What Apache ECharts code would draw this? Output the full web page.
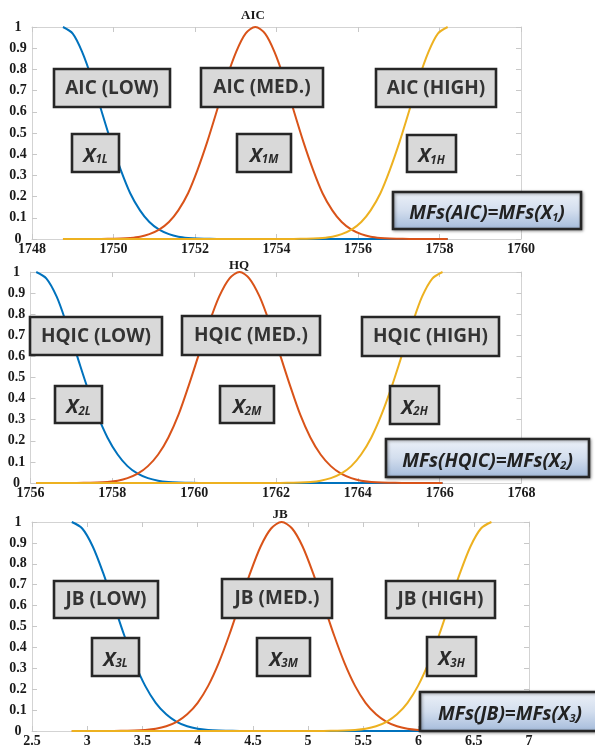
<!DOCTYPE html>
<html>
<head>
<meta charset="utf-8">
<script src="https://cdn.jsdelivr.net/npm/echarts@6/dist/echarts.min.js"></script>
<style>html,body{margin:0;padding:0;background:#fff}#c{width:595px;height:748px}</style>
</head>
<body>
<div id="c"></div>
<script>
// ---------- data ----------
const AIC_X    = [1748.76,1749.00,1749.23,1749.47,1749.70,1749.94,1750.18,1750.41,1750.65,1750.88,1751.12,1751.36,1751.59,1751.83,1752.06,1752.30,1752.54,1752.77,1753.01,1753.24,1753.48,1753.72,1753.95,1754.19,1754.42,1754.66,1754.90,1755.13,1755.37,1755.60,1755.84,1756.08,1756.31,1756.55,1756.78,1757.02,1757.26,1757.49,1757.73,1757.96,1758.20];
const AIC_LOW  = [1,0.969,0.883,0.755,0.607,0.458,0.325,0.216,0.135,0.080,0.044,0.023,0.011,0.005,0.002,0.001,0,0,0,0,0,0,0,0,0,0,0,0,0,0,0,0,0,0,0,0,0,0,0,0,0];
const AIC_MED  = [0,0,0,0,0,0.001,0.002,0.005,0.011,0.023,0.044,0.080,0.135,0.216,0.325,0.458,0.607,0.755,0.883,0.969,1,0.969,0.883,0.755,0.607,0.458,0.325,0.216,0.135,0.080,0.044,0.023,0.011,0.005,0.002,0.001,0,0,0,0,0];
const AIC_HIGH = [0,0,0,0,0,0,0,0,0,0,0,0,0,0,0,0,0,0,0,0,0,0,0,0,0,0.001,0.002,0.005,0.011,0.023,0.044,0.080,0.135,0.216,0.325,0.458,0.607,0.755,0.883,0.969,1];

const HQ_X    = [1756.14,1756.39,1756.64,1756.88,1757.13,1757.38,1757.63,1757.88,1758.13,1758.37,1758.62,1758.87,1759.12,1759.37,1759.62,1759.86,1760.11,1760.36,1760.61,1760.86,1761.11,1761.35,1761.60,1761.85,1762.10,1762.35,1762.59,1762.84,1763.09,1763.34,1763.59,1763.84,1764.08,1764.33,1764.58,1764.83,1765.08,1765.33,1765.57,1765.82,1766.07];
const HQ_LOW  = [1,0.969,0.883,0.755,0.607,0.458,0.325,0.216,0.135,0.080,0.044,0.023,0.011,0.005,0.002,0.001,0,0,0,0,0,0,0,0,0,0,0,0,0,0,0,0,0,0,0,0,0,0,0,0,0];
const HQ_MED  = [0,0,0,0,0,0.001,0.002,0.005,0.011,0.023,0.044,0.080,0.135,0.216,0.325,0.458,0.607,0.755,0.883,0.969,1,0.969,0.883,0.755,0.607,0.458,0.325,0.216,0.135,0.080,0.044,0.023,0.011,0.005,0.002,0.001,0,0,0,0,0];
const HQ_HIGH = [0,0,0,0,0,0,0,0,0,0,0,0,0,0,0,0,0,0,0,0,0,0,0,0,0,0.001,0.002,0.005,0.011,0.023,0.044,0.080,0.135,0.216,0.325,0.458,0.607,0.755,0.883,0.969,1];

const JB_X    = [2.860,2.955,3.050,3.145,3.240,3.335,3.430,3.525,3.620,3.715,3.810,3.905,4.000,4.095,4.190,4.285,4.380,4.475,4.570,4.665,4.760,4.855,4.950,5.045,5.140,5.235,5.330,5.425,5.520,5.615,5.710,5.805,5.900,5.995,6.090,6.185,6.280,6.375,6.470,6.565,6.660];
const JB_LOW  = [1,0.969,0.883,0.755,0.607,0.458,0.325,0.216,0.135,0.080,0.044,0.023,0.011,0.005,0.002,0.001,0,0,0,0,0,0,0,0,0,0,0,0,0,0,0,0,0,0,0,0,0,0,0,0,0];
const JB_MED  = [0,0,0,0,0,0.001,0.002,0.005,0.011,0.023,0.044,0.080,0.135,0.216,0.325,0.458,0.607,0.755,0.883,0.969,1,0.969,0.883,0.755,0.607,0.458,0.325,0.216,0.135,0.080,0.044,0.023,0.011,0.005,0.002,0.001,0,0,0,0,0];
const JB_HIGH = [0,0,0,0,0,0,0,0,0,0,0,0,0,0,0,0,0,0,0,0,0,0,0,0,0,0.001,0.002,0.005,0.011,0.023,0.044,0.080,0.135,0.216,0.325,0.458,0.607,0.755,0.883,0.969,1];

const X_RANGES = [[1748,1760,2],[1756,1768,2],[2.5,7,0.5]];
const TITLES = ['AIC','HQ','JB'];
const BOX_TEXT = [
  ['AIC (LOW)','AIC (MED.)','AIC (HIGH)','1L','1M','1H','MFs(AIC)=MFs(X','1'],
  ['HQIC (LOW)','HQIC (MED.)','HQIC (HIGH)','2L','2M','2H','MFs(HQIC)=MFs(X','2'],
  ['JB (LOW)','JB (MED.)','JB (HIGH)','3L','3M','3H','MFs(JB)=MFs(X','3']
];

// ---------- layout ----------
const grids = [
  {left:32, top:27, width:489, height:212},
  {left:30.5, top:272, width:491, height:211},
  {left:32, top:522, width:497, height:214}
];
const titlePos = [[253,15.5],[239,265.5],[280,515]];
const boxPos = [
  [[54,69,116,38],[201,68,122,39],[376,69,120,38],[72,134,47,38],[237,134,54,38],[407,135,49,37],[393,192,188,37]],
  [[30,317,132,38],[182,316,138,39],[362,317,137,39],[55,386,47,37],[220,386,54,37],[390,386,49,38],[386,439,203,38]],
  [[54,581,104,37],[222,579,110,39],[386,581,109,37],[92,638,47,38],[257,638,53,38],[427,637,49,39],[420,692,180,39]]
];

const COLORS = ['#0072BD','#D95319','#EDB120'];
const data = [
  [AIC_X,AIC_LOW,AIC_MED,AIC_HIGH],
  [HQ_X,HQ_LOW,HQ_MED,HQ_HIGH],
  [JB_X,JB_LOW,JB_MED,JB_HIGH]
];

const lblStyle = {fontFamily:'"Liberation Serif", serif', fontWeight:'bold', fontSize:14, color:'#1a1a1a'};
const edge = '#d3d3d3';
const xAxis = [], yAxis = [], series = [], graphic = [];

for (let p = 0; p < 3; p++) {
  const [mn, mx, iv] = X_RANGES[p];
  xAxis.push({type:'value', gridIndex:p, min:mn, max:mx, interval:iv, position:'bottom',
    axisLine:{show:true, onZero:false, lineStyle:{color:edge}},
    axisTick:{show:true, inside:true, length:5, lineStyle:{color:'#c8c8c8'}},
    splitLine:{show:false},
    axisLabel:{...lblStyle, margin:3, formatter:(v)=>String(v)}});
  xAxis.push({type:'value', gridIndex:p, min:mn, max:mx, interval:iv, position:'top',
    axisLine:{show:true, onZero:false, lineStyle:{color:edge}},
    axisTick:{show:true, inside:true, length:5, lineStyle:{color:'#c8c8c8'}},
    splitLine:{show:false}, axisLabel:{show:false}});
  yAxis.push({type:'value', gridIndex:p, min:0, max:1, interval:0.1, position:'left',
    axisLine:{show:true, onZero:false, lineStyle:{color:edge}},
    axisTick:{show:true, inside:true, length:5, lineStyle:{color:'#c8c8c8'}},
    splitLine:{show:false},
    axisLabel:{...lblStyle, align:'center', margin:14}});
  yAxis.push({type:'value', gridIndex:p, min:0, max:1, interval:0.1, position:'right',
    axisLine:{show:true, onZero:false, lineStyle:{color:edge}},
    axisTick:{show:true, inside:true, length:5, lineStyle:{color:'#c8c8c8'}},
    splitLine:{show:false}, axisLabel:{show:false}});

  const xs = data[p][0];
  for (let s = 0; s < 3; s++) {
    const ys = data[p][s+1];
    series.push({type:'line', xAxisIndex:p*2, yAxisIndex:p*2, smooth:0.3,
      showSymbol:false, symbol:'none', clip:false,
      lineStyle:{color:COLORS[s], width:2}, z:2+s,
      data: xs.map((v,i)=>[v, ys[i]])});
  }

  graphic.push({type:'text', x:titlePos[p][0], y:titlePos[p][1], z:50,
    style:{text:TITLES[p], align:'center', verticalAlign:'middle',
      font:'bold 13px "Liberation Serif", serif', fill:'#1a1a1a'}});

  const bt = BOX_TEXT[p], bp = boxPos[p];
  for (let b = 0; b < 3; b++) {
    const [x,y,w,h] = bp[b];
    graphic.push({type:'rect', z:100, shape:{x,y,width:w,height:h},
      style:{fill:'#d9d9d9', stroke:'#262626', lineWidth:2.6}});
    graphic.push({type:'text', z:101, x:x+w/2, y:y+h/2+0.5,
      style:{text:bt[b], align:'center', verticalAlign:'middle',
        font:'bold 19px "Open Sans", sans-serif', fill:'#333333'}});
  }
  for (let b = 3; b < 6; b++) {
    const [x,y,w,h] = bp[b];
    graphic.push({type:'rect', z:100, shape:{x,y,width:w,height:h},
      style:{fill:'#d9d9d9', stroke:'#262626', lineWidth:2.6}});
    graphic.push({type:'text', z:101, x:x+w/2, y:y+h/2+1,
      style:{text:'{a|X}{b|' + bt[b] + '}', align:'center', verticalAlign:'middle',
        rich:{
          a:{fontFamily:'"Open Sans", sans-serif', fontWeight:'bold', fontStyle:'italic', fontSize:20, lineHeight:24, fill:'#2a2a2a', verticalAlign:'bottom'},
          b:{fontFamily:'"Open Sans", sans-serif', fontWeight:'bold', fontStyle:'italic', fontSize:11.5, lineHeight:17, fill:'#2a2a2a', verticalAlign:'bottom'}
        }}});
  }
  {
    const [x,y,w,h] = bp[6];
    graphic.push({type:'rect', z:100, shape:{x,y,width:w,height:h},
      style:{fill:new echarts.graphic.LinearGradient(0,0,0,1,[
        {offset:0,color:'#eef2f9'},{offset:0.5,color:'#d3deee'},{offset:1,color:'#a3bada'}]),
        stroke:'#262626', lineWidth:2.6, shadowBlur:3, shadowColor:'rgba(0,0,0,0.35)', shadowOffsetX:1, shadowOffsetY:1}});
    graphic.push({type:'text', z:101, x:x+w/2, y:y+h/2+1,
      style:{text:'{a|' + bt[6] + '}{b|' + bt[7] + '}{a|)}', align:'center', verticalAlign:'middle',
        rich:{
          a:{fontFamily:'"Open Sans", sans-serif', fontWeight:'bold', fontStyle:'italic', fontSize:19, lineHeight:24, fill:'#222222', verticalAlign:'bottom'},
          b:{fontFamily:'"Open Sans", sans-serif', fontWeight:'bold', fontStyle:'italic', fontSize:11, lineHeight:17, fill:'#222222', verticalAlign:'bottom'}
        }}});
  }
}

const chart = echarts.init(document.getElementById('c'), null, {renderer:'canvas'});
chart.setOption({
  backgroundColor:'#ffffff',
  animation:false,
  grid: grids,
  xAxis, yAxis, series, graphic
});
</script>
</body>
</html>
